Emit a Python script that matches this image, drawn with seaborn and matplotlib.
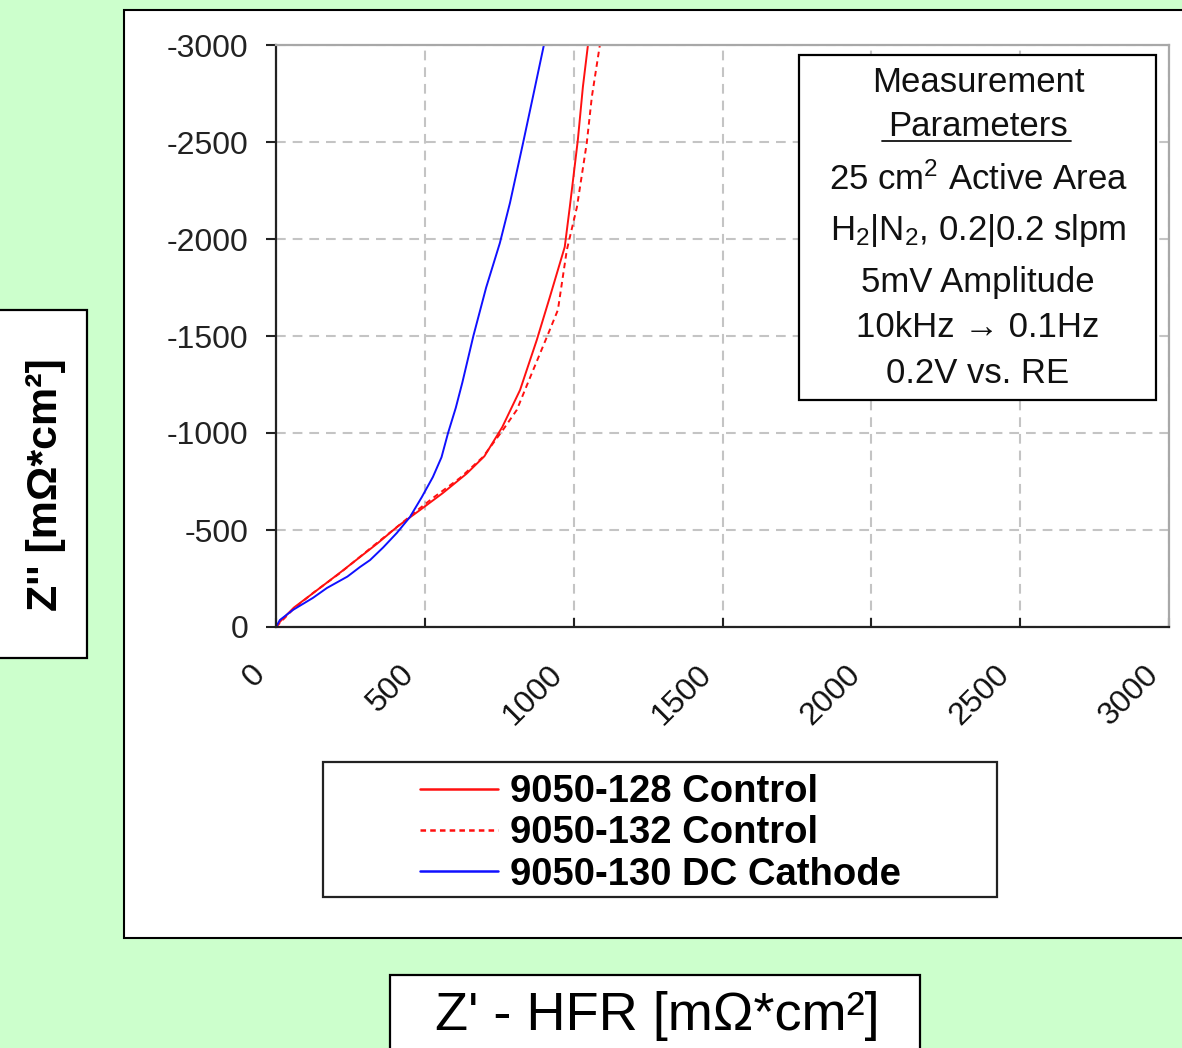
import matplotlib
matplotlib.use("Agg")
import matplotlib.pyplot as plt
import matplotlib.transforms as mtransforms
from matplotlib.patches import Rectangle
from matplotlib.lines import Line2D
import pandas as pd
import seaborn as sns

# Nyquist data: Z' - HFR (x) and Z'' (y), both in mOhm*cm^2
z_real_128 = [0, 15, 60, 125, 215, 340, 410, 490, 560, 640, 700, 760, 820, 876, 920, 970, 987, 1014, 1031, 1048]
z_imag_128 = [0, -30, -100, -175, -280, -430, -520, -610, -690, -790, -880, -1030, -1222, -1479, -1701, -1959, -2165, -2510, -2784, -3000]

z_real_132 = [0, 13, 60, 124, 215, 339, 406, 484, 527, 618, 695, 762, 809, 846, 910, 947, 977, 1011, 1044, 1061, 1088]
z_imag_132 = [0, -21, -95, -175, -278, -433, -515, -613, -665, -768, -876, -1015, -1119, -1258, -1495, -1634, -1943, -2165, -2495, -2732, -3000]

z_real_130 = [0, 13, 57, 124, 171, 240, 282, 316, 360, 406, 450, 490, 527, 556, 578, 604, 626, 663, 706, 752, 786, 830, 863, 900]
z_imag_130 = [0, -36, -88, -150, -201, -260, -309, -345, -410, -485, -567, -670, -773, -875, -1000, -1130, -1260, -1500, -1750, -1979, -2186, -2495, -2732, -3000]

series_names = ["9050-128 Control", "9050-132 Control", "9050-130 DC Cathode"]
x_ticks = [0, 500, 1000, 1500, 2000, 2500, 3000]
y_ticks = [-3000, -2500, -2000, -1500, -1000, -500, 0]

box_lines = [
    "Measurement",
    "Parameters",
    "25 cm$^2$ Active Area",
    "H$_2$|N$_2$, 0.2|0.2 slpm",
    "5mV Amplitude",
    "10kHz \u2192 0.1Hz",
    "0.2V vs. RE",
]

sns.set_theme(style="white")
plt.rcParams["font.family"] = ["Liberation Sans", "DejaVu Sans"]
plt.rcParams["axes.unicode_minus"] = False
plt.rcParams["lines.scale_dashes"] = False
plt.rcParams["mathtext.fontset"] = "custom"
plt.rcParams["mathtext.rm"] = "Liberation Sans"
plt.rcParams["mathtext.it"] = "Liberation Sans:italic"
plt.rcParams["mathtext.bf"] = "Liberation Sans:bold"

W, H = 1182, 1048
fig = plt.figure(figsize=(W / 100, H / 100), dpi=100, facecolor="#CCFFCC")


def fx(px):
    return px / W


def fy(py):
    return 1 - py / H


# white chart panel
fig.add_artist(Rectangle((fx(124), fy(938)), fx(1210) - fx(124), (938 - 10) / H,
                         transform=fig.transFigure, facecolor="white",
                         edgecolor="black", linewidth=1.5, zorder=-1))

ax = fig.add_axes([fx(276), fy(627), fx(1169) - fx(276), (627 - 45) / H])
ax.set_facecolor("white")

frames = [
    pd.DataFrame({"zr": z_real_128, "zi": z_imag_128}),
    pd.DataFrame({"zr": z_real_132, "zi": z_imag_132}),
    pd.DataFrame({"zr": z_real_130, "zi": z_imag_130}),
]
colors = ["#FF1010", "#FF1010", "#1010FF"]
styles = ["-", (0, (4, 3)), "-"]
for df, name, c, ls in zip(frames, series_names, colors, styles):
    sns.lineplot(data=df, x="zr", y="zi", ax=ax, sort=False, estimator=None,
                 color=c, linestyle=ls, linewidth=1.4, label=name, legend=False)

ax.set_xlim(0, 3000)
ax.set_ylim(0, -3000)
ax.set_xticks(x_ticks)
ax.set_yticks(y_ticks)
ax.set_xticklabels([str(v) for v in x_ticks])
ax.set_yticklabels([str(v) for v in y_ticks])
ax.set_xlabel("")
ax.set_ylabel("")

ax.grid(True, color="#c4c4c4", linestyle=(0, (7, 5)), linewidth=1.5)
ax.set_axisbelow(True)

for side in ["left", "bottom"]:
    ax.spines[side].set_color("#222222")
    ax.spines[side].set_linewidth(1.6)
for side in ["top", "right"]:
    ax.spines[side].set_color("#a8a8a8")
    ax.spines[side].set_linewidth(1.6)

ax.tick_params(axis="y", left=True, direction="out", length=7, width=1.5,
               color="#222222", labelsize=23, labelcolor="#222222", pad=13)
ax.tick_params(axis="x", bottom=True, direction="in", length=6.5, width=1.5,
               color="#222222", labelsize=23, labelcolor="#111111", pad=31)

shift = mtransforms.ScaledTranslation(-15 / 100, 0, fig.dpi_scale_trans)
for lab in ax.get_xticklabels():
    lab.set_rotation(45)
    lab.set_ha("right")
    lab.set_va("center")
    lab.set_rotation_mode("anchor")
    lab.set_transform(lab.get_transform() + shift)

# measurement parameters box
fig.add_artist(Rectangle((fx(799), fy(400)), fx(1156) - fx(799), (400 - 55) / H,
                         transform=fig.transFigure, facecolor="white",
                         edgecolor="black", linewidth=1.6, zorder=5))
baselines = [92, 136, 190, 240, 292, 337, 383]
for txt, by in zip(box_lines, baselines):
    fig.text(fx(978), fy(by), txt, ha="center", va="baseline", fontsize=25,
             color="#111111", zorder=6)
fig.add_artist(Line2D([fx(882), fx(1071)], [fy(140.5), fy(140.5)],
                      transform=fig.transFigure, color="#111111", linewidth=1.3,
                      zorder=6))

# legend box
fig.add_artist(Rectangle((fx(323), fy(897)), fx(997) - fx(323), (897 - 762) / H,
                         transform=fig.transFigure, facecolor="white",
                         edgecolor="#222222", linewidth=1.6, zorder=5))
handles = ax.get_lines()[:3]
leg = fig.legend(handles, series_names, loc="upper left",
                 bbox_to_anchor=(fx(420), fy(774)), bbox_transform=fig.transFigure,
                 frameon=False, prop={"weight": "bold", "size": 27.5},
                 handlelength=2.05, handletextpad=0.3, labelspacing=0.14,
                 borderpad=0, borderaxespad=0)
leg.set_zorder(6)
for t in leg.get_texts():
    t.set_color("black")
for ln in leg.get_lines():
    ln.set_linewidth(1.8)

# y-axis title box
fig.add_artist(Rectangle((fx(-5), fy(658)), fx(87) - fx(-5), (658 - 310) / H,
                         transform=fig.transFigure, facecolor="white",
                         edgecolor="black", linewidth=1.6, zorder=5))
fig.text(fx(46), fy(485), "Z'' [m\u03a9*cm\u00b2]", rotation=90, ha="center",
         va="center", fontsize=31, fontweight="bold", color="black", zorder=6)

# x-axis title box
fig.add_artist(Rectangle((fx(390), fy(1070)), fx(920) - fx(390), (1070 - 975) / H,
                         transform=fig.transFigure, facecolor="white",
                         edgecolor="black", linewidth=1.6, zorder=5))
fig.text(fx(657), fy(1030), "Z' - HFR [m\u03a9*cm\u00b2]", ha="center",
         va="baseline", fontsize=39, color="black", zorder=6)

fig.savefig("out.png", dpi=100, facecolor=fig.get_facecolor())
